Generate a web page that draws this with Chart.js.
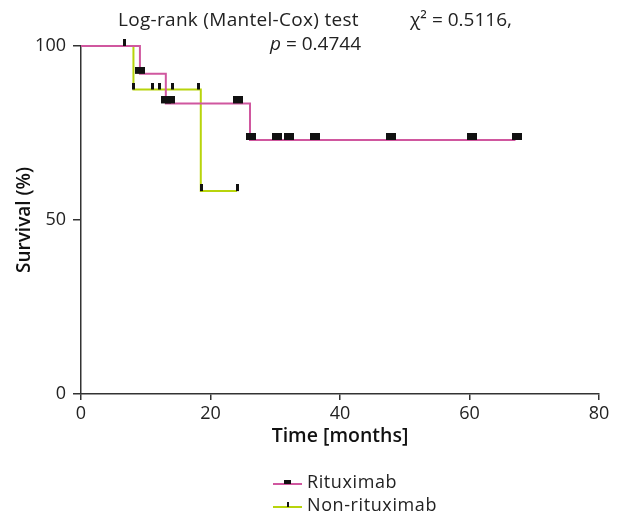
<!DOCTYPE html>
<html>
<head>
<meta charset="utf-8">
<script src="https://cdn.jsdelivr.net/npm/chart.js@4"></script>
<style>
  html, body { margin: 0; padding: 0; background: #fff; }
  #wrap { width: 622px; height: 522px; }
</style>
</head>
<body>
<div id="wrap"><canvas id="kmChart" width="622" height="522"></canvas></div>
<script>
// Kaplan-Meier steps (time in months, survival %)
var ritTimes = [0, 9.1, 13.1, 26.1, 67.1];
var ritSurv = [100, 92, 83.5, 73, 73];
var nonTimes = [0, 8.1, 18.5, 24.1];
var nonSurv = [100, 87.5, 58.3, 58.3];

// censored observations
var ritCensorTimes = [9.1, 13.1, 13.7, 24.2, 26.3, 30.2, 32.2, 36.2, 47.8, 60.4, 67.3];
var ritCensorSurv = [92, 83.5, 83.5, 83.5, 73, 73, 73, 73, 73, 73, 73];
var nonCensorTimes = [6.7, 8.1, 11.1, 12.1, 14.2, 18.1, 18.6, 24.1];
var nonCensorSurv = [100, 87.5, 87.5, 87.5, 87.5, 87.5, 58.3, 58.3];

var xTicks = [0, 20, 40, 60, 80];
var yTicks = [0, 50, 100];

var PINK = "#d0579f";
var GREEN = "#b8d40c";
var FONT = "'Open Sans', 'DejaVu Sans', sans-serif";

function pts(xs, ys) {
  return xs.map(function (x, i) { return { x: x, y: ys[i] }; });
}

// censor marks sit on top of the line, so the image has a blank lower half
function makeMark(w, h) {
  var c = document.createElement("canvas");
  c.width = w;
  c.height = h * 2;
  var g = c.getContext("2d");
  g.fillStyle = "#111";
  g.fillRect(0, 0, w, h);
  return c;
}
var ritMark = makeMark(10, 7);
var nonMark = makeMark(3, 7);

var textPlugin = {
  id: "texts",
  afterDraw: function (chart) {
    var c = chart.ctx;
    c.save();
    c.fillStyle = "#222";
    c.textBaseline = "middle";
    c.textAlign = "left";
    c.font = "19px " + FONT;
    c.letterSpacing = "0.3px";
    c.fillText("Log-rank (Mantel-Cox) test", 118, 21);
    c.letterSpacing = "0px";
    c.fillText("\u03c7\u00b2 = 0.5116,", 410, 21);
    c.font = "italic 19px " + FONT;
    c.fillText("p", 270, 45);
    var pw = c.measureText("p").width;
    c.font = "19px " + FONT;
    c.fillText(" = 0.4744", 270 + pw, 45);

    // legend
    c.lineWidth = 2;
    c.strokeStyle = PINK;
    c.beginPath(); c.moveTo(273, 484); c.lineTo(302, 484); c.stroke();
    c.fillStyle = "#111";
    c.fillRect(284, 480, 7, 4);
    c.strokeStyle = GREEN;
    c.beginPath(); c.moveTo(273, 507); c.lineTo(302, 507); c.stroke();
    c.fillStyle = "#111";
    c.fillRect(287, 502, 2, 5);
    c.fillStyle = "#222";
    c.font = "18px " + FONT;
    c.letterSpacing = "0.6px";
    c.fillText("Rituximab", 307, 483);
    c.fillText("Non-rituximab", 307, 506);
    c.restore();
  },
};

var ctx = document.getElementById("kmChart").getContext("2d");
new Chart(ctx, {
  type: "line",
  data: {
    datasets: [
      {
        label: "Rituximab censored",
        data: pts(ritCensorTimes, ritCensorSurv),
        showLine: false,
        pointStyle: ritMark,
        pointRadius: 5,
        order: 0,
        clip: false,
      },
      {
        label: "Non-rituximab censored",
        data: pts(nonCensorTimes, nonCensorSurv),
        showLine: false,
        pointStyle: nonMark,
        pointRadius: 5,
        order: 0,
        clip: false,
      },
      {
        label: "Rituximab",
        data: pts(ritTimes, ritSurv),
        borderColor: PINK,
        borderWidth: 2,
        stepped: "before",
        pointRadius: 0,
        fill: false,
        order: 1,
        clip: false,
      },
      {
        label: "Non-rituximab",
        data: pts(nonTimes, nonSurv),
        borderColor: GREEN,
        borderWidth: 2,
        stepped: "before",
        pointRadius: 0,
        fill: false,
        order: 2,
        clip: false,
      },
    ],
  },
  options: {
    responsive: false,
    animation: false,
    layout: { padding: { left: 0, top: 46, right: 23, bottom: 68 } },
    plugins: {
      legend: { display: false },
      tooltip: { enabled: false },
    },
    scales: {
      x: {
        type: "linear",
        min: 0,
        max: 80,
        afterBuildTicks: function (s) {
          s.ticks = xTicks.map(function (v) { return { value: v }; });
        },
        afterFit: function (s) { s.height = 60; },
        grid: { drawOnChartArea: false, drawTicks: true, tickLength: 6, color: "#333", lineWidth: 1.5 },
        border: { display: true, color: "#333", width: 1.5 },
        ticks: { color: "#222", font: { family: FONT, size: 18 }, padding: 3, maxRotation: 0 },
        title: {
          display: true,
          text: "Time [months]",
          color: "#111",
          font: { family: FONT, size: 19.5, weight: "600" },
          padding: { top: 0, bottom: 6 },
        },
      },
      y: {
        min: 0,
        max: 100,
        afterBuildTicks: function (s) {
          s.ticks = yTicks.map(function (v) { return { value: v }; });
        },
        afterFit: function (s) { s.width = 81; },
        grid: { drawOnChartArea: false, drawTicks: true, tickLength: 8, color: "#333", lineWidth: 1.5 },
        border: { display: true, color: "#333", width: 1.5 },
        ticks: { color: "#222", font: { family: FONT, size: 18 }, padding: 7 },
        title: {
          display: true,
          text: "Survival (%)",
          color: "#111",
          font: { family: FONT, size: 19, weight: "600" },
          padding: { top: 13, bottom: 0 },
        },
      },
    },
  },
  plugins: [textPlugin],
});
</script>
</body>
</html>
